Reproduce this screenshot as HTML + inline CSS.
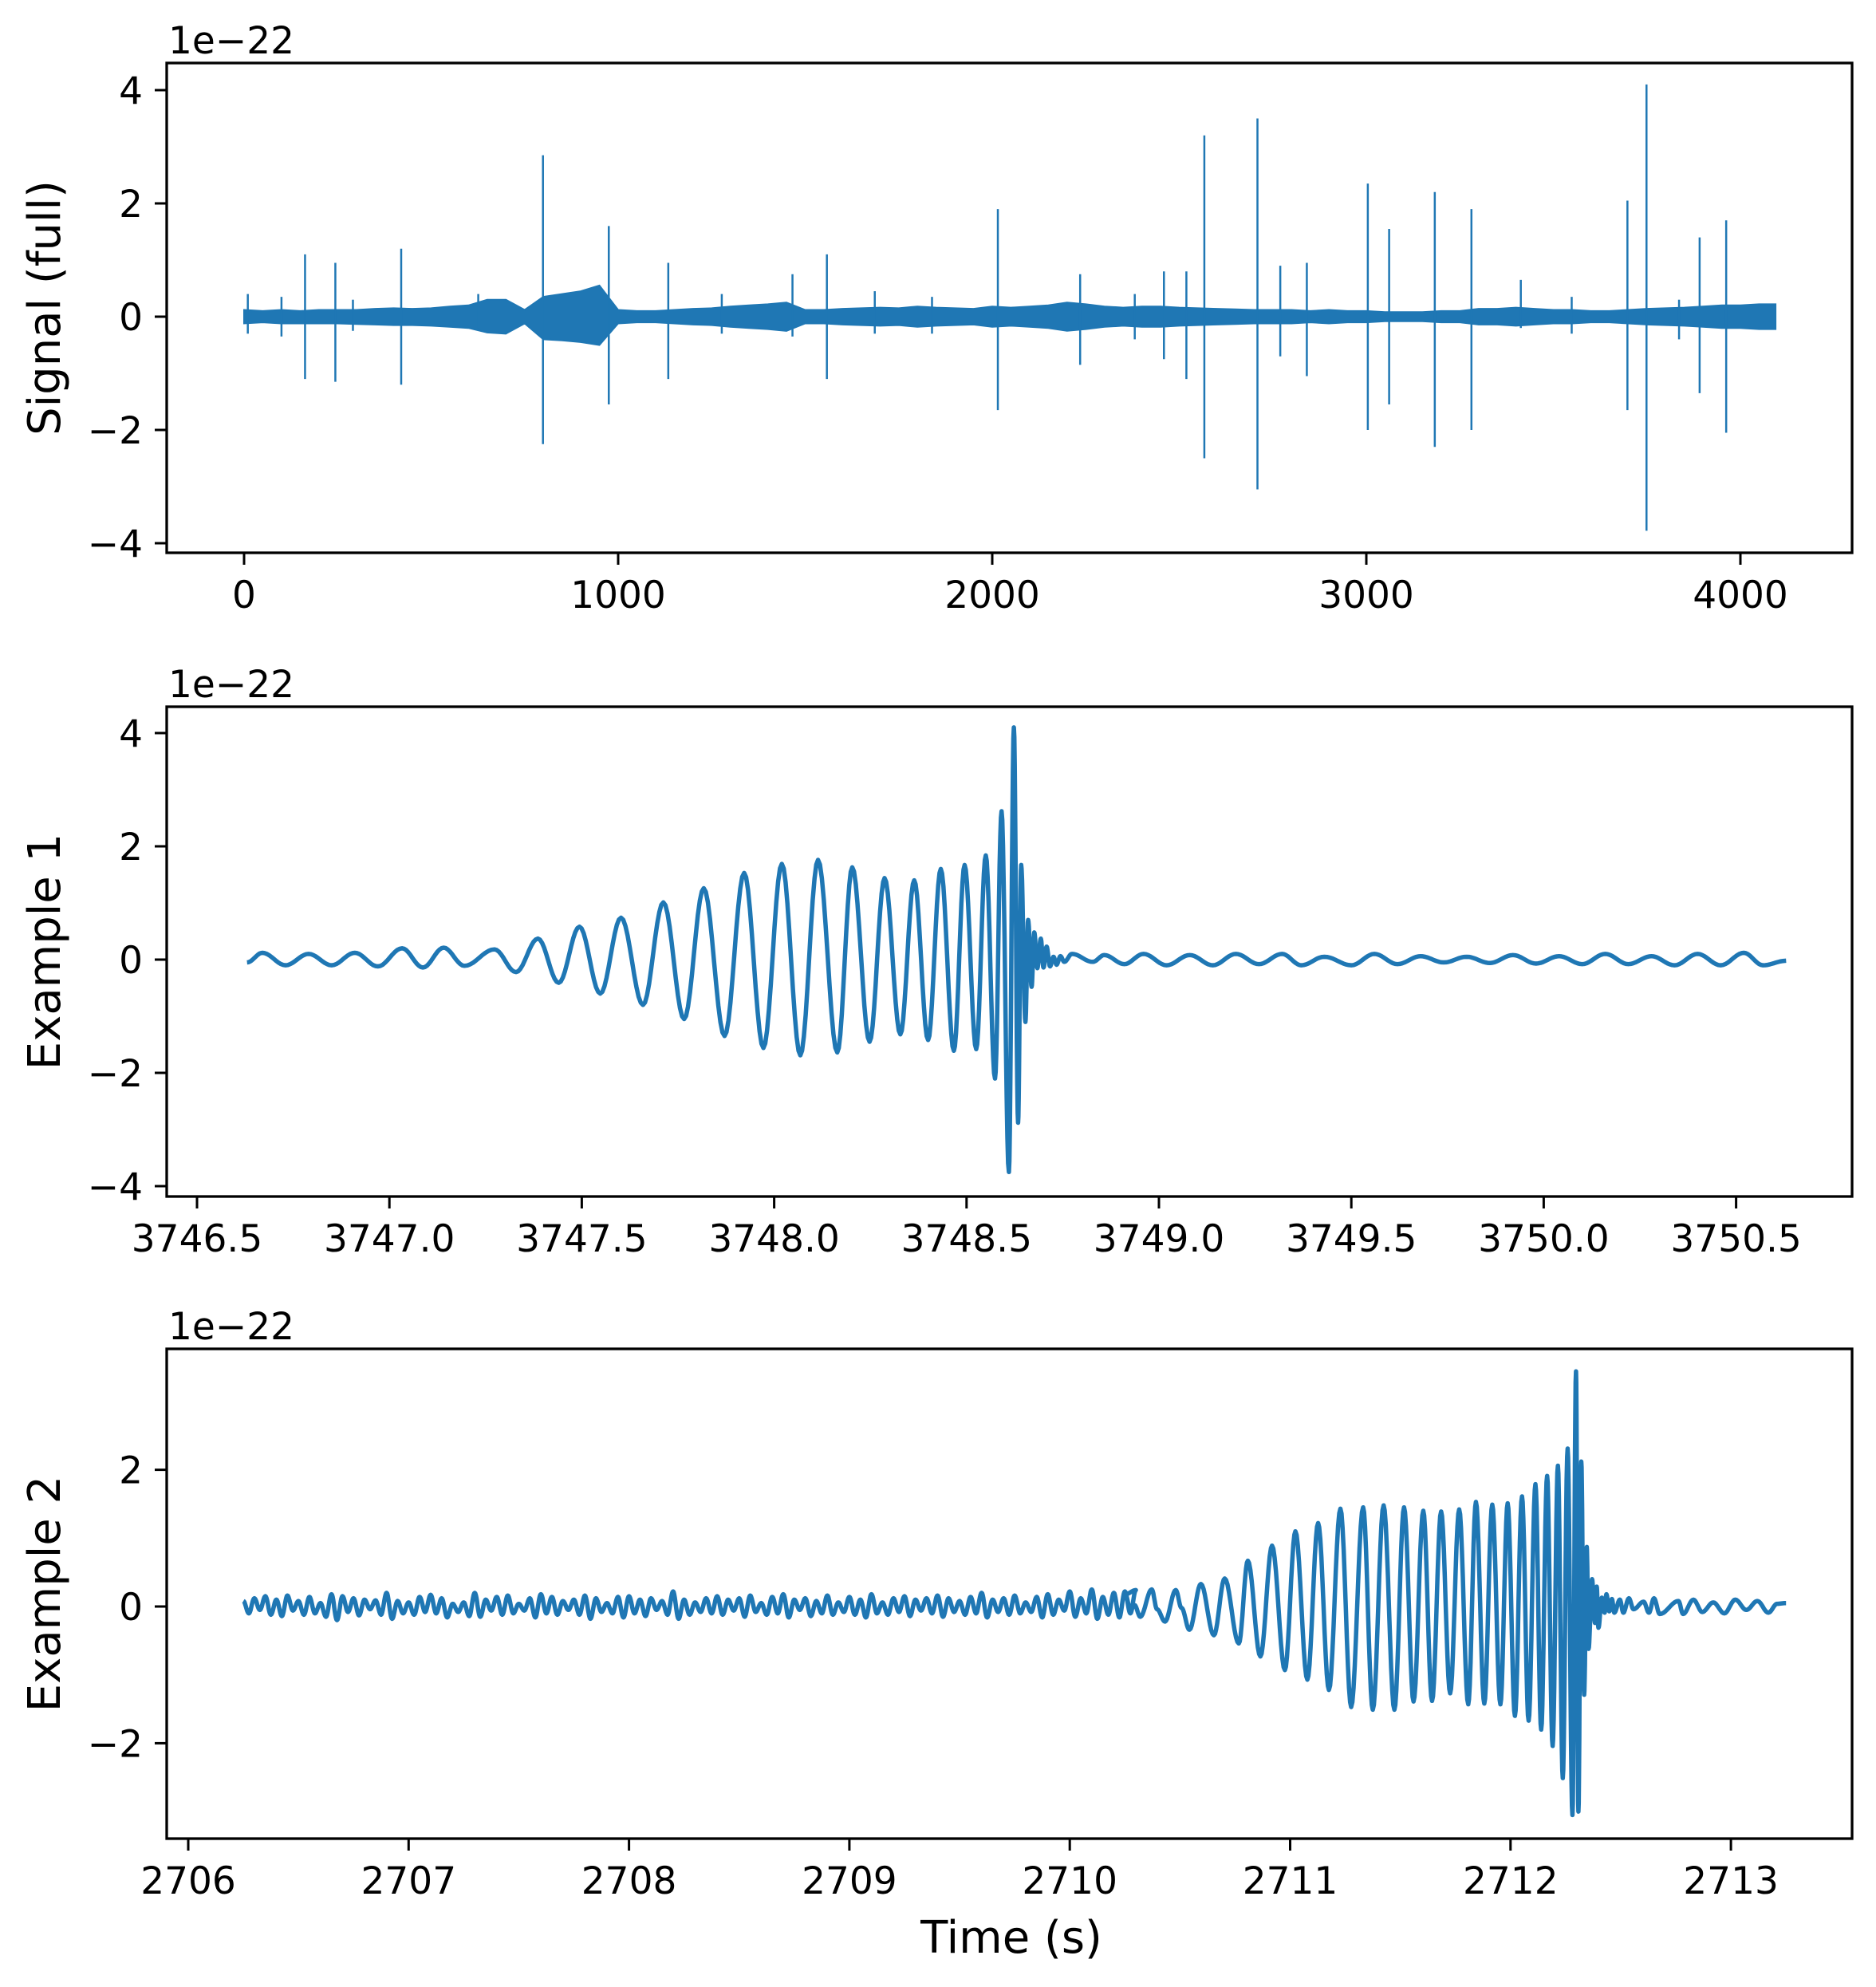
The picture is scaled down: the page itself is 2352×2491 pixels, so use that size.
<!DOCTYPE html>
<html><head><meta charset="utf-8">
<style>
html,body{margin:0;padding:0;background:#fff;}
svg{display:block;}
text{font-family:"DejaVu Sans","Liberation Sans",sans-serif;fill:#000;}
</style></head>
<body>
<svg id="fig" width="2352" height="2491" viewBox="0 0 2352 2491" xmlns="http://www.w3.org/2000/svg">
<rect x="0" y="0" width="2352" height="2491" fill="#fff"/>
</svg>
<script>
// ---------- Panel 1 data (full signal) ----------
const envStep = 50; // seconds per envelope sample
const envUpper = [.12,.1,.12,.1,.12,.12,.12,.14,.15,.14,.15,.18,.2,.3,.3,.12,.35,.4,.45,.55,.12,.1,.1,.12,.14,.15,.18,.2,.22,.25,.12,.12,.14,.15,.16,.15,.18,.16,.15,.14,.18,.16,.18,.2,.25,.22,.18,.16,.18,.18,.16,.15,.14,.13,.12,.12,.12,.1,.12,.1,.1,.08,.08,.08,.1,.1,.14,.14,.16,.14,.12,.12,.1,.1,.12,.14,.15,.16,.18,.2,.2,.22];
const envLower = [-.12,-.1,-.12,-.12,-.12,-.12,-.13,-.14,-.15,-.15,-.16,-.18,-.2,-.28,-.3,-.12,-.4,-.42,-.45,-.5,-.12,-.1,-.1,-.12,-.14,-.15,-.18,-.2,-.22,-.25,-.12,-.12,-.14,-.15,-.16,-.15,-.18,-.16,-.15,-.14,-.18,-.16,-.18,-.2,-.25,-.22,-.18,-.16,-.18,-.18,-.16,-.15,-.14,-.13,-.12,-.12,-.12,-.1,-.12,-.1,-.1,-.08,-.08,-.08,-.1,-.1,-.14,-.14,-.16,-.14,-.12,-.12,-.1,-.1,-.12,-.14,-.15,-.16,-.18,-.2,-.2,-.22];
const signalEnd = 4094;
const spikeTimes = [10,100,163,244,291,420,626,799,975,1134,1277,1466,1558,1686,1839,2015,2235,2381,2459,2519,2567,2709,2770,2841,3004,3061,3183,3281,3413,3549,3698,3749,3836,3891,3962];
const spikeMax = [0.4,0.35,1.1,0.95,0.3,1.2,0.4,2.85,1.6,0.95,0.4,0.75,1.1,0.45,0.35,1.9,0.75,0.4,0.8,0.8,3.2,3.5,0.9,0.95,2.35,1.55,2.2,1.9,0.65,0.35,2.05,4.1,0.3,1.4,1.7];
const spikeMin = [-0.3,-0.35,-1.1,-1.15,-0.25,-1.2,-0.2,-2.25,-1.55,-1.1,-0.3,-0.35,-1.1,-0.3,-0.3,-1.65,-0.85,-0.4,-0.75,-1.1,-2.5,-3.05,-0.7,-1.05,-2.0,-1.55,-2.3,-2.0,-0.2,-0.3,-1.65,-3.78,-0.4,-1.35,-2.05];
const p1XTicks = [0,1000,2000,3000,4000];
const p1YTicks = [-4,-2,0,2,4];

// ---------- Panel 2 data (Example 1): extrema times and values ----------
const ex1Times = [3746.63,3746.67,3746.73,3746.79,3746.85,3746.91,3746.97,3747.033,3747.087,3747.141,3747.195,3747.273,3747.329,3747.386,3747.440,3747.494,3747.548,3747.602,3747.659,3747.712,3747.766,3747.817,3747.871,3747.922,3747.972,3748.020,3748.068,3748.114,3748.164,3748.203,3748.248,3748.287,3748.328,3748.364,3748.400,3748.433,3748.467,3748.495,3748.525,3748.550,3748.574,3748.591,3748.610,3748.623,3748.634,3748.642,3748.653,3748.660,3748.669,3748.676,3748.684,3748.693,3748.700,3748.708,3748.717,3748.726,3748.734,3748.744,3748.754,3748.774,3748.828,3748.858,3748.91,3748.96,3749.02,3749.08,3749.14,3749.2,3749.26,3749.32,3749.37,3749.43,3749.5,3749.56,3749.62,3749.68,3749.74,3749.8,3749.86,3749.92,3749.98,3750.04,3750.1,3750.16,3750.22,3750.28,3750.34,3750.4,3750.46,3750.52,3750.57,3750.63];
const ex1Values = [-0.05,0.12,-0.1,0.1,-0.1,0.12,-0.12,0.2,-0.14,0.21,-0.11,0.18,-0.22,0.37,-0.41,0.58,-0.6,0.74,-0.8,1.01,-1.05,1.26,-1.35,1.53,-1.56,1.69,-1.69,1.76,-1.64,1.63,-1.45,1.44,-1.32,1.4,-1.42,1.6,-1.61,1.67,-1.58,1.84,-2.1,2.62,-3.75,4.1,-2.88,1.67,-1.1,0.7,-0.48,0.48,-0.15,0.37,-0.14,0.23,-0.12,0.05,-0.09,0.06,-0.04,0.1,-0.04,0.08,-0.08,0.1,-0.1,0.08,-0.1,0.1,-0.08,0.1,-0.1,0.05,-0.1,0.1,-0.08,0.06,-0.05,0.05,-0.06,0.08,-0.07,0.06,-0.08,0.1,-0.08,0.06,-0.1,0.1,-0.1,0.12,-0.1,-0.02];
const p2XTicks = [3746.5,3747.0,3747.5,3748.0,3748.5,3749.0,3749.5,3750.0,3750.5];
const p2YTicks = [-4,-2,0,2,4];

// ---------- Panel 3 data (Example 2) ----------
const ex2NoiseStart = 2706.25;
const ex2NoiseStep = 0.025;
const ex2Noise = [0.08,-0.1,0.12,-0.05,0.15,-0.12,0.1,-0.14,0.16,-0.06,0.08,-0.12,0.14,-0.1,0.05,-0.15,0.18,-0.2,0.15,-0.08,0.12,-0.13,0.1,-0.04,0.09,-0.12,0.2,-0.18,0.08,-0.1,0.06,-0.12,0.14,-0.08,0.17,-0.1,0.12,-0.16,0.04,-0.08,0.06,-0.14,0.2,-0.15,0.1,-0.06,0.14,-0.12,0.16,-0.1,0.04,-0.06,0.12,-0.16,0.18,-0.1,0.14,-0.12,0.08,-0.05,0.1,-0.12,0.16,-0.18,0.12,-0.08,0.05,-0.1,0.14,-0.16,0.15,-0.1,0.1,-0.14,0.12,-0.05,0.08,-0.12,0.22,-0.18,0.1,-0.12,0.06,-0.08,0.12,-0.1,0.15,-0.12,0.1,-0.06,0.12,-0.15,0.16,-0.08,0.05,-0.12,0.14,-0.1,0.18,-0.16,0.1,-0.05,0.12,-0.14,0.08,-0.1,0.16,-0.12,0.06,-0.08,0.14,-0.12,0.1,-0.16,0.18,-0.1,0.06,-0.12,0.12,-0.08,0.15,-0.14,0.1,-0.06,0.12,-0.1,0.16,-0.15,0.12,-0.08,0.08,-0.12,0.14,-0.1,0.2,-0.16,0.1,-0.08,0.12,-0.12,0.16,-0.1,0.06,-0.08,0.14,-0.16,0.18,-0.12,0.1,-0.06,0.22,-0.15,0.12,-0.1,0.25,-0.18,0.14,-0.12,0.2,-0.16,0.22,-0.1,0.24];
const ex2Times = [2710.253,2710.274,2710.294,2710.320,2710.372,2710.396,2710.432,2710.481,2710.507,2710.543,2710.595,2710.654,2710.703,2710.767,2710.808,2710.865,2710.918,2710.976,2711.024,2711.078,2711.127,2711.176,2711.228,2711.277,2711.331,2711.375,2711.424,2711.473,2711.517,2711.560,2711.604,2711.644,2711.685,2711.726,2711.767,2711.808,2711.843,2711.881,2711.917,2711.954,2711.987,2712.020,2712.052,2712.082,2712.113,2712.139,2712.166,2712.191,2712.215,2712.237,2712.259,2712.281,2712.297,2712.308,2712.321,2712.334,2712.346,2712.354,2712.370,2712.383,2712.391,2712.399,2712.414,2712.427,2712.435,2712.448,2712.460,2712.471,2712.496,2712.512,2712.537,2712.558,2712.604,2712.628,2712.651,2712.677,2712.762,2712.783,2712.83,2712.87,2712.92,2712.97,2713.02,2713.07,2713.12,2713.17,2713.21,2713.25];
const ex2Values = [0.18,-0.04,0.02,-0.15,0.25,-0.04,-0.22,0.24,-0.02,-0.34,0.33,-0.42,0.41,-0.54,0.67,-0.73,0.89,-0.93,1.1,-1.07,1.22,-1.22,1.43,-1.47,1.45,-1.51,1.48,-1.51,1.45,-1.39,1.4,-1.38,1.39,-1.27,1.42,-1.43,1.53,-1.42,1.49,-1.43,1.51,-1.6,1.61,-1.67,1.79,-1.8,1.91,-2.04,2.06,-2.51,2.31,-3.05,3.44,-3.0,2.12,-1.29,0.87,-0.62,0.4,-0.24,0.29,-0.31,0.13,-0.09,0.18,-0.07,0.11,-0.09,0.1,-0.09,0.12,-0.04,0.07,-0.09,0.12,-0.11,0.08,-0.11,0.1,-0.08,0.06,-0.1,0.1,-0.05,0.08,-0.09,0.04,0.05];
const p3XTicks = [2706,2707,2708,2709,2710,2711,2712,2713];
const p3YTicks = [-2,0,2];

const NS = 'http://www.w3.org/2000/svg';
const svg = document.getElementById('fig');
const BLUE = '#1f77b4';
function mk(tag, attrs, parent) {
  const e = document.createElementNS(NS, tag);
  for (const k in attrs) e.setAttribute(k, attrs[k]);
  (parent || svg).appendChild(e);
  return e;
}
const L = 209, R = 2322, H = 614;

function axes(name, top, x0, xScale, y0, yScale, xTicks, yTicks, fmt, ylabel) {
  const g = mk('g', {});
  
  
  const xs = v => x0 + (v - xTicks[0]) * xScale;
  const ys = v => y0 - v * yScale;
  const clipId = name + '-clip';
  const cp = mk('clipPath', {id: clipId}, g);
  mk('rect', {x: L, y: top, width: R - L, height: H}, cp);
  const plot = mk('g', {'clip-path': 'url(#' + clipId + ')'}, g);
  
  
  const xg = mk('g', {}, g);
  
  
  xTicks.forEach(t => {
    const x = xs(t);
    mk('line', {x1: x, x2: x, y1: top + H, y2: top + H + 15, stroke: '#000', 'stroke-width': 3}, xg);
    const tx = mk('text', {x: x, y: top + H + 69, 'font-size': 47, 'text-anchor': 'middle'}, xg);
    
    
    tx.textContent = fmt(t);
  });
  const yg = mk('g', {}, g);
  
  
  yTicks.forEach(v => {
    const y = ys(v);
    mk('line', {x1: L - 15, x2: L, y1: y, y2: y, stroke: '#000', 'stroke-width': 3}, yg);
    const tx = mk('text', {x: L - 30, y: y + 17, 'font-size': 47, 'text-anchor': 'end'}, yg);
    
    
    tx.textContent = v < 0 ? '\u2212' + Math.abs(v) : String(v);
  });
  const off = mk('text', {x: L + 2, y: top - 12, 'font-size': 47}, g);
  
  
  off.textContent = '1e\u221222';
  const yl = mk('text', {x: 0, y: 0, 'font-size': 56, 'text-anchor': 'middle', transform: 'translate(75,' + (top + H / 2) + ') rotate(-90)'}, g);
  
  
  yl.textContent = ylabel;
  return {g, plot, xs, ys, top};
}
function frame(a) {
  const r = mk('rect', {x: L, y: a.top, width: R - L, height: H, fill: 'none', stroke: '#000', 'stroke-width': 3.3}, a.g);
  
  
}
function cosPath(a, times, vals) {
  let d = '';
  for (let i = 0; i < times.length; i++) {
    if (i === 0) { d += 'M' + a.xs(times[0]).toFixed(1) + ' ' + a.ys(vals[0]).toFixed(1); continue; }
    const t0 = times[i - 1], t1 = times[i], v0 = vals[i - 1], v1 = vals[i];
    const N = 10;
    for (let k = 1; k <= N; k++) {
      const s = k / N;
      const t = t0 + (t1 - t0) * s;
      const v = v0 + (v1 - v0) * (1 - Math.cos(Math.PI * s)) / 2;
      d += 'L' + a.xs(t).toFixed(1) + ' ' + a.ys(v).toFixed(1);
    }
  }
  return d;
}

// Panel 1
const a1 = axes('panel-full', 79, 306, 0.469, 397, 71, p1XTicks, p1YTicks, v => String(v), 'Signal (full)');
(function () {
  const n = Math.min(envUpper.length, envLower.length);
  let up = '', lo = '';
  for (let i = 0; i < n; i++) {
    const t = Math.min(i * envStep, signalEnd);
    up += (i ? 'L' : 'M') + a1.xs(t).toFixed(1) + ' ' + a1.ys(envUpper[i]).toFixed(1);
  }
  up += 'L' + a1.xs(signalEnd).toFixed(1) + ' ' + a1.ys(envUpper[n - 1]).toFixed(1);
  lo += 'L' + a1.xs(signalEnd).toFixed(1) + ' ' + a1.ys(envLower[n - 1]).toFixed(1);
  for (let i = n - 1; i >= 0; i--) {
    lo += 'L' + a1.xs(i * envStep).toFixed(1) + ' ' + a1.ys(envLower[i]).toFixed(1);
  }
  const band = mk('path', {d: up + lo + 'Z', fill: BLUE, stroke: BLUE, 'stroke-width': 2}, a1.plot);
  
  
  spikeTimes.forEach((t, i) => {
    const ln = mk('line', {x1: a1.xs(t), x2: a1.xs(t), y1: a1.ys(spikeMax[i]), y2: a1.ys(spikeMin[i]), stroke: BLUE, 'stroke-width': 2.5}, a1.plot);
    
    
  });
})();
frame(a1);

// Panel 2
const a2 = axes('panel-example-1', 886, 247, 482.4, 1203, 71, p2XTicks, p2YTicks, v => v.toFixed(1), 'Example 1');
(function () {
  const p = mk('path', {d: cosPath(a2, ex1Times, ex1Values), fill: 'none', stroke: BLUE, 'stroke-width': 5.5, 'stroke-linejoin': 'round'}, a2.plot);
  
  
})();
frame(a2);

// Panel 3
const a3 = axes('panel-example-2', 1691, 236, 276.3, 2014, 85.7, p3XTicks, p3YTicks, v => String(v), 'Example 2');
(function () {
  const nt = ex2Noise.map((v, i) => ex2NoiseStart + i * ex2NoiseStep);
  const times = nt.concat(ex2Times);
  const vals = ex2Noise.concat(ex2Values);
  const p = mk('path', {d: cosPath(a3, times, vals), fill: 'none', stroke: BLUE, 'stroke-width': 5.5, 'stroke-linejoin': 'round'}, a3.plot);
  
  
})();
frame(a3);

const xl = mk('text', {x: 1268, y: 2448, 'font-size': 56, 'text-anchor': 'middle'});


xl.textContent = 'Time (s)';
</script>
</body></html>
